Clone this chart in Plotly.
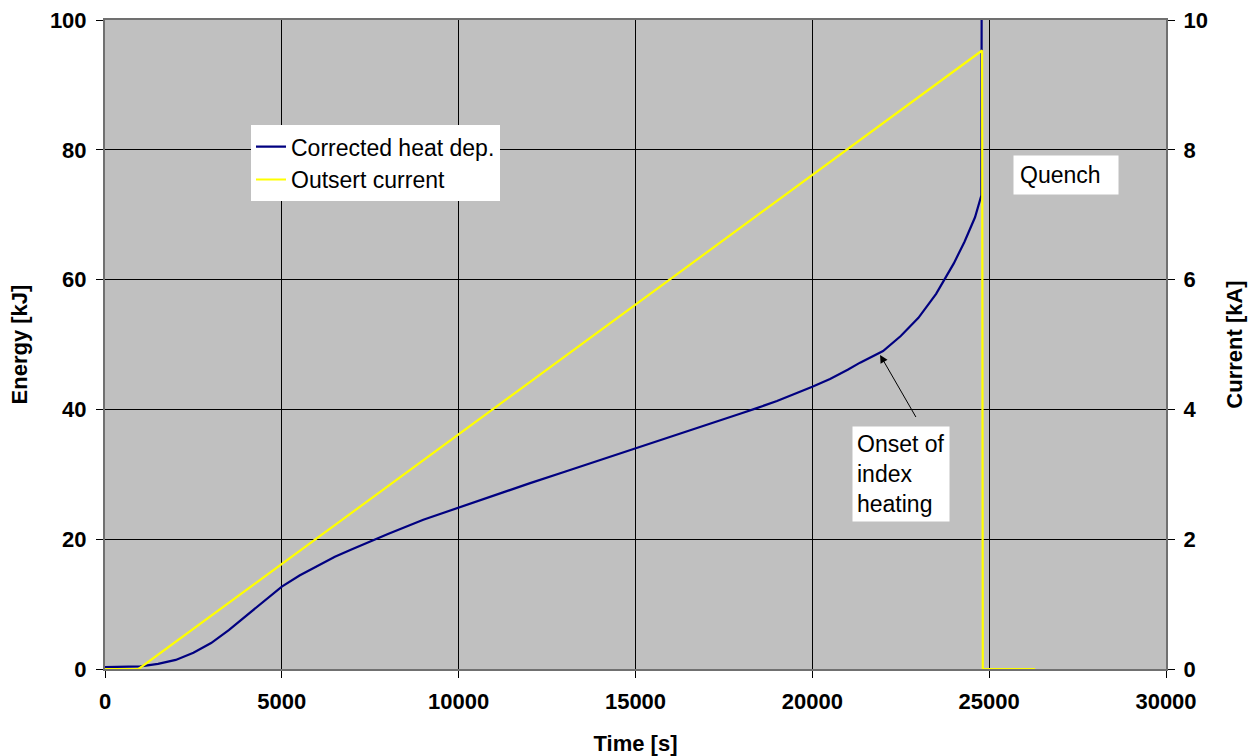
import plotly.graph_objects as go

# Corrected heat deposition (energy, kJ) versus time (s)
heat_time = [0, 500, 900, 1000, 1500, 2000, 2500, 3000, 3500, 4000, 4500, 5000,
             5500, 6000, 6500, 7000, 7635, 8000, 9000, 10000, 11000, 12000, 13000,
             14000, 15000, 16000, 17000, 18000, 18430, 19000, 20000, 20500, 21000,
             21350, 22000, 22500, 23000, 23500, 24000, 24300, 24600, 24780, 24800]
heat_energy = [0.3, 0.3, 0.3, 0.4, 0.8, 1.4, 2.5, 4.0, 6.0, 8.2, 10.5, 12.7,
               14.4, 15.9, 17.3, 18.5, 20.0, 20.8, 23.0, 24.9, 26.8, 28.6, 30.4,
               32.2, 34.0, 35.7, 37.5, 39.4, 40.2, 41.3, 43.5, 44.7, 46.1,
               47.2, 49.0, 51.3, 54.1, 57.8, 62.5, 65.8, 69.6, 73.0, 150.0]

# Outsert current (kA) versus time (s)
current_time = [0, 950, 24800, 24820, 26300]
current_ka = [0.0, 0.0, 9.53, 0.0, 0.0]

x_ticks = [0, 5000, 10000, 15000, 20000, 25000, 30000]
energy_ticks = [0, 20, 40, 60, 80, 100]
current_ticks = [0, 2, 4, 6, 8, 10]

FONT = "Liberation Sans, Arial, sans-serif"
FS = 23

fig = go.Figure()
fig.add_trace(go.Scatter(
    x=heat_time, y=heat_energy, mode="lines", name="Corrected heat dep.",
    line=dict(color="#000080", width=2.2), yaxis="y"))
fig.add_trace(go.Scatter(
    x=current_time, y=current_ka, mode="lines", name="Outsert current",
    line=dict(color="#FFFF00", width=2.2), yaxis="y2"))

axis_common = dict(
    ticks="outside", ticklen=7, tickcolor="black", tickwidth=1,
    showline=True, linecolor="#707070", linewidth=2,
    tickfont=dict(family=FONT, size=22, color="black", weight="bold"),
    zeroline=False, automargin=False,
)

fig.update_layout(
    width=1249, height=756,
    margin=dict(l=105, r=83, t=20, b=87),
    paper_bgcolor="white", plot_bgcolor="#C0C0C0",
    font=dict(family=FONT, size=FS, color="black"),
    showlegend=True,
    legend=dict(x=0.1376, y=0.838, xanchor="left", yanchor="top",
                bgcolor="white", borderwidth=0,
                font=dict(family=FONT, size=FS, color="black"),
                tracegroupgap=0, itemwidth=30),
    xaxis=dict(range=[0, 30000], tickvals=x_ticks, tickformat="d",
               ticklabelstandoff=5,
               showgrid=True, gridcolor="black", gridwidth=1, mirror=True,
               title=dict(text="Time [s]", standoff=22,
                          font=dict(family=FONT, size=22, weight="bold")),
               **axis_common),
    yaxis=dict(range=[0, 100], tickvals=energy_ticks, ticklabelstandoff=5,
               showgrid=True, gridcolor="black", gridwidth=1, mirror=True,
               title=dict(text="Energy [kJ]", standoff=16,
                          font=dict(family=FONT, size=22, weight="bold")),
               **axis_common),
    yaxis2=dict(range=[0, 10], tickvals=current_ticks, overlaying="y",
                side="right", showgrid=False, ticklabelstandoff=4,
                title=dict(text="Current [kA]", standoff=20,
                           font=dict(family=FONT, size=22, weight="bold")),
                **axis_common),
)

# Arrow marking where index heating sets in
fig.add_annotation(
    x=21915, y=48.4, ax=22952, ay=38.6, xref="x", yref="y",
    axref="x", ayref="y", text="", showarrow=True,
    arrowhead=2, arrowsize=1.6, arrowwidth=1, arrowcolor="black")

fig.add_annotation(
    x=22508, y=30.05, xref="x", yref="y", xanchor="center", yanchor="middle",
    text="Onset of<br>index<br>heating", showarrow=False, align="left",
    bgcolor="white", borderpad=4,
    font=dict(family=FONT, size=FS, color="black"))

fig.add_annotation(
    x=25675, y=76.1, xref="x", yref="y", xanchor="left", yanchor="middle",
    text="Quench", showarrow=False, align="left", width=92,
    bgcolor="white", borderpad=6,
    font=dict(family=FONT, size=FS, color="black"))

fig.write_html("out.html")
